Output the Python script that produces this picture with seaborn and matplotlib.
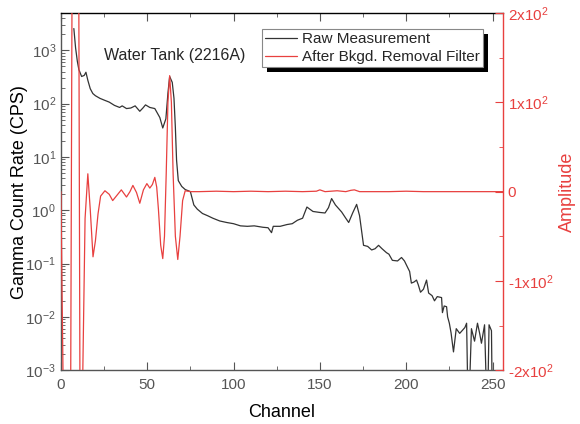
import numpy as np
import pandas as pd
import seaborn as sns
import matplotlib.pyplot as plt
from matplotlib.patches import Rectangle
from matplotlib.ticker import MultipleLocator, LogLocator, NullFormatter, FixedLocator

# =========================
# DATA
# =========================
raw_channel = [7.5, 8.5, 9.5, 10.4, 12, 13.5, 14.5, 15.6, 17, 18.5, 20, 22.6, 25, 28, 31, 34,
               35.5, 38, 40.5, 43, 45.7, 47.5, 49, 51.5, 54.4, 57.3, 59, 60.8, 62, 63, 64.5,
               65.5, 66.3, 67, 68, 70, 72, 75, 77, 79, 82, 85, 88, 92, 96, 100, 104, 108, 112,
               117, 120, 122, 123, 127, 131, 134, 137, 140, 142.5, 146, 150, 153, 155, 156.8,
               159, 162.6, 165, 166.7, 169, 171.3, 173, 175.3, 177.7, 180, 182, 184, 186, 188.6,
               190, 192, 195, 197.3, 199, 200.8, 202, 203, 204.5, 206, 207, 208.3, 210, 211.8,
               213, 215, 216.4, 218, 220.5, 221, 222, 223.4, 224, 225, 226, 227.4, 229, 231,
               232.6, 234, 235, 236, 237.8, 239.6, 241.3, 242.5, 243.6, 245.4, 247, 248, 249.4, 250]
raw_cps = [2570, 1120, 631, 437, 324, 339, 389, 275, 191, 155, 141, 126, 117, 107, 93, 85,
           91, 81, 83, 91, 72, 83, 95, 85, 81, 55, 35, 52, 158, 324, 251,
           126, 36, 8.7, 3.6, 2.8, 2.45, 2.24, 1.26, 1.05, 0.87, 0.79, 0.71, 0.63, 0.59, 0.56, 0.51, 0.50, 0.51,
           0.48, 0.47, 0.38, 0.50, 0.50, 0.54, 0.56, 0.65, 0.71, 1.15, 0.95, 0.91, 0.89, 1.12, 1.66,
           1.26, 0.93, 0.71, 0.59, 0.89, 1.29, 0.79, 0.22, 0.21, 0.18, 0.19, 0.22, 0.19, 0.16,
           0.15, 0.115, 0.112, 0.13, 0.112, 0.085, 0.071, 0.043, 0.045, 0.049, 0.040, 0.029, 0.033, 0.049,
           0.028, 0.025, 0.020, 0.024, 0.023, 0.012, 0.016, 0.0155, 0.010, 0.0076, 0.005, 0.0022, 0.006, 0.0049,
           0.0056, 0.0063, 0.0076, 0.0001, 0.006, 0.0035, 0.0076, 0.005, 0.0032, 0.0071, 0.0001, 0.0071, 0.0055, 0.0001]

filt_channel = [0, 1.2, 3, 5.7, 6.4, 8.4, 10.4, 11, 12, 12.7, 14, 15.6, 17, 18.6, 20, 21.5, 23,
                25.5, 28, 30, 32.5, 35, 36.5, 38, 40, 41.7, 43.8, 45.7, 47.8, 49.8, 51.5, 53,
                54.4, 55.5, 56.5, 57.8, 59, 60, 61, 62, 63, 64, 65, 66.3, 67.7, 69, 70.5, 72,
                75, 80, 90, 100, 110, 120, 130, 140, 148, 150, 153, 160, 165, 168, 170, 173,
                180, 190, 200, 210, 220, 230, 240, 250, 256]
filt_amp = [0, -200, -600, -200, 200, 700, 200, -200, -400, -200, -30, 20, -20, -73, -55, -25, -5,
            1, -3, -10, -4, 2, -2, -6, 0, 7, -1, -13, 2, 9, 4, 8,
            16, 5, -20, -60, -75, -50, 20, 100, 130, 100, 20, -50, -76, -50, -10, 1,
            0, 0, 0.5, 0, 0.5, 0, 0.5, 0, 0.5, 2, 0, 1, 0, 1.5, 2, 0,
            0, 0, 0.5, 0, 0, 0, 0, 0, 0]

legend_labels = ["Raw Measurement", "After Bkgd. Removal Filter"]
amp_ticks = [-200, -100, 0, 100, 200]
amp_ticklabels = ["-2x10$^2$", "-1x10$^2$", "0", "1x10$^2$", "2x10$^2$"]

# =========================
# VISUAL SETTINGS
# =========================
sns.set_style("ticks")
plt.rcParams["font.family"] = ["Liberation Sans", "DejaVu Sans"]
plt.rcParams["mathtext.fontset"] = "custom"
plt.rcParams["mathtext.rm"] = "Liberation Sans"
plt.rcParams["mathtext.it"] = "Liberation Sans:italic"
plt.rcParams["mathtext.bf"] = "Liberation Sans:bold"

red = "#e8403f"
dark = "#333333"
gray = "#555555"

raw = pd.DataFrame({"Channel": raw_channel, "CPS": raw_cps})
filt = pd.DataFrame({"Channel": filt_channel, "Amplitude": filt_amp})

# =========================
# PLOT
# =========================
fig, ax = plt.subplots(figsize=(5.8, 4.24), dpi=100)
fig.subplots_adjust(left=0.105, right=0.867, top=0.969, bottom=0.127)
ax.set_yscale("log")
ax2 = ax.twinx()

sns.lineplot(data=raw, x="Channel", y="CPS", ax=ax, color=dark, lw=0.9, sort=False)
sns.lineplot(data=filt, x="Channel", y="Amplitude", ax=ax2, color=red, lw=0.9, sort=False)

ax.set_xlim(0, 256)
ax.set_ylim(1e-3, 5e3)
ax2.set_ylim(-200, 200)

# x ticks
ax.xaxis.set_major_locator(MultipleLocator(50))
ax.xaxis.set_minor_locator(MultipleLocator(25))
ax.tick_params(axis="x", which="both", direction="in", top=True, labelsize=11,
               labelcolor=gray, color=gray, pad=6)
ax.tick_params(axis="x", which="major", length=6)
ax.tick_params(axis="x", which="minor", length=3)

# left log axis
ax.yaxis.set_major_locator(LogLocator(base=10, numticks=20))
ax.yaxis.set_minor_locator(LogLocator(base=10, subs=np.arange(2, 10), numticks=20))
ax.yaxis.set_minor_formatter(NullFormatter())
ax.tick_params(axis="y", which="both", direction="in", right=False, labelsize=11,
               labelcolor=gray, color=gray)
ax.tick_params(axis="y", which="major", length=6)
ax.tick_params(axis="y", which="minor", length=3)

# right amplitude axis
ax2.yaxis.set_major_locator(FixedLocator(amp_ticks))
ax2.set_yticklabels(amp_ticklabels)
ax2.yaxis.set_minor_locator(MultipleLocator(50))
ax2.tick_params(axis="y", which="both", direction="in", labelsize=11, colors=red)
ax2.tick_params(axis="y", which="major", length=6)
ax2.tick_params(axis="y", which="minor", length=3)

for s in ["left", "bottom"]:
    ax.spines[s].set_color(gray)
ax.spines["top"].set_color("black")
ax.spines["right"].set_visible(False)
for s in ["left", "top", "bottom"]:
    ax2.spines[s].set_visible(False)
ax2.spines["right"].set_color(red)
for sp in list(ax.spines.values()) + list(ax2.spines.values()):
    sp.set_linewidth(1.0)

ax.set_xlabel("Channel", fontsize=13, color="black", labelpad=8)
ax.set_ylabel("Gamma Count Rate (CPS)", fontsize=13, color="black", labelpad=-2)
ax2.set_xlabel("")
ax2.set_ylabel("Amplitude", fontsize=13, color=red)

ax.text(25, 800, "Water Tank (2216A)", fontsize=11.5, va="center", ha="left")

# legend
for a in (ax, ax2):
    if a.get_legend() is not None:
        a.get_legend().remove()
handles = [ax.get_lines()[0], ax2.get_lines()[0]]
leg = ax2.legend(handles, legend_labels, loc="upper right", bbox_to_anchor=(0.955, 0.955),
                 frameon=True, fancybox=False, edgecolor="#888888", framealpha=1,
                 fontsize=11, handlelength=2.1, borderpad=0.2, labelspacing=0.25,
                 handletextpad=0.3, borderaxespad=0)
leg.get_frame().set_linewidth(0.8)
leg.set_zorder(6)

# thick drop shadow under the legend box
fig.canvas.draw()
bb = leg.get_window_extent()
ax2.add_patch(Rectangle((bb.x0 + 5, bb.y0 - 5), bb.width, bb.height, transform=None,
                        facecolor="black", edgecolor="none", zorder=5.5, clip_on=False))

plt.savefig("out.png", dpi=100)
